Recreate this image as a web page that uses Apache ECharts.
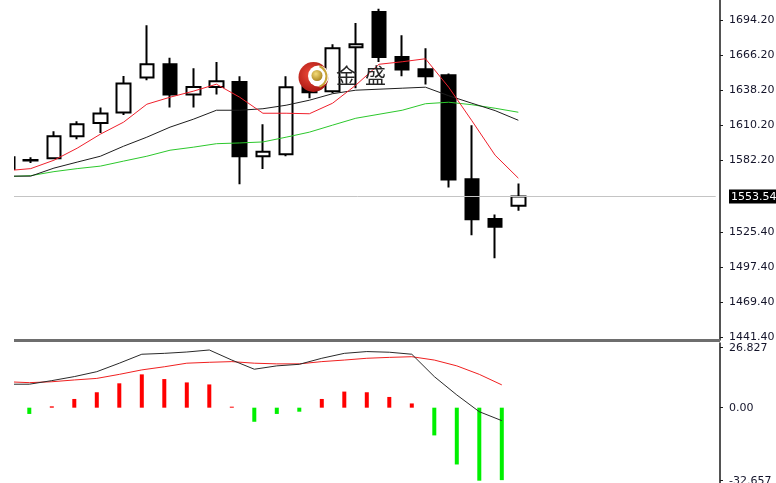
<!DOCTYPE html>
<html>
<head>
<meta charset="utf-8">
<script src="https://cdn.jsdelivr.net/npm/echarts@6/dist/echarts.min.js"></script>
<style>
html,body{margin:0;padding:0;background:#fff;}
#chart{width:776px;height:483px;}
</style>
</head>
<body>
<div id="chart"></div>
<script>
// ---- data ----
const categories = ['1','2','3','4','5','6','7','8','9','10','11','12','13','14','15','16','17','18','19','20','21','22','23'];
const opens  = [1575.4,1582.3,1584.1,1601.7,1612.3,1620.6,1648.5,1659.1,1634.9,1641.0,1645.0,1585.7,1587.3,1641.6,1637.6,1672.7,1700.8,1664.9,1655.1,1650.3,1567.4,1535.5,1546.1];
const closes = [1584.9,1582.7,1601.7,1611.3,1619.8,1643.7,1659.1,1634.9,1641.0,1645.5,1585.7,1589.3,1640.8,1636.8,1671.9,1675.1,1664.9,1654.9,1649.5,1567.2,1535.3,1529.4,1553.54];
const lows   = [1575.4,1580.2,1583.3,1599.3,1604.3,1618.7,1646.3,1624.6,1624.6,1634.9,1563.4,1575.4,1585.7,1632.0,1636.0,1640.0,1660.9,1649.5,1643.0,1560.8,1522.7,1504.2,1542.1];
const highs  = [1584.9,1584.9,1605.7,1613.6,1624.6,1649.8,1690.2,1664.4,1655.9,1660.9,1649.5,1611.3,1649.5,1654.3,1675.1,1692.0,1703.5,1682.2,1671.9,1651.7,1610.5,1539.2,1564.0];
const ma5  = [1574.2,1575.8,1582.5,1592.1,1603.3,1612.9,1627.2,1632.8,1637.6,1643.2,1632.8,1620.0,1620.0,1619.6,1628.0,1642.4,1659.1,1661.1,1663.5,1640.8,1614.0,1586.5,1568.2];
const ma10 = [1569.8,1569.8,1576.2,1581.0,1585.7,1593.7,1600.9,1608.9,1615.2,1622.4,1622.4,1623.6,1626.4,1630.4,1635.6,1638.4,1639.2,1640.0,1640.8,1634.0,1628.0,1622.1,1614.4];
const ma20 = [1569.4,1570.2,1573.4,1575.8,1577.8,1581.8,1585.7,1590.5,1592.9,1595.7,1596.3,1597.1,1600.9,1604.9,1610.5,1616.0,1619.2,1622.4,1627.6,1628.8,1626.8,1624.0,1620.8];
const dif  = [10.5,10.5,12.1,13.9,16.1,19.9,23.9,24.3,24.9,25.8,21.3,17.2,18.7,19.4,22.1,24.3,25.1,24.8,23.9,13.9,5.7,-1.8,-5.8];
const dea  = [11.6,11.2,11.6,12.4,13.1,14.9,16.9,18.3,19.9,20.3,20.6,19.9,19.6,19.6,20.6,21.3,22.1,22.5,22.8,21.3,18.7,14.9,10.2];
const macdHist = [-2.2,-2.8,0.6,3.9,6.9,10.9,14.9,12.8,11.3,10.4,0.45,-6.3,-2.8,-1.8,3.9,7.2,6.9,4.8,1.9,-12.4,-25.4,-32.657,-32.4];
const priceTicks = [1441.40,1469.40,1497.40,1525.40,1582.20,1610.20,1638.20,1666.20,1694.20];
const lastPrice = 1553.54;
const macdTicks = [26.827,0,-32.657];
const macdTickLabels = ['26.827','0.00','-32.657'];
const watermarkChars = ['金','盛'];

// ---- layout helpers ----
const TOP_SLOTS = 31, BOTTOM_SLOTS = 32;
function pad(arr, n){ const out = arr.slice(); for(let i=arr.length;i<n;i++) out.push('p'+i); return out; }
const topCats = pad(categories, TOP_SLOTS);
const botCats = pad(categories, BOTTOM_SLOTS);
const candleData = categories.map((_, i) => [opens[i], closes[i], lows[i], highs[i]]);

const FONT = 'DejaVu Sans';
const chart = echarts.init(document.getElementById('chart'), null, {renderer:'canvas'});

const priceLabelValues = priceTicks.concat([lastPrice]);

chart.setOption({
  animation: false,
  backgroundColor: '#ffffff',
  grid: [
    {left: -4.11, right: 60.3, top: 0, height: 340, containLabel: false, outerBoundsMode: 'none'},
    {left: -4.45, right: 60.45, top: 343, height: 140, containLabel: false, outerBoundsMode: 'none'}
  ],
  xAxis: [
    {type:'category', gridIndex:0, data: topCats, boundaryGap:true, show:false},
    {type:'category', gridIndex:1, data: botCats, boundaryGap:true, show:false}
  ],
  yAxis: [
    {
      type:'value', gridIndex:0, position:'right', offset:4.3,
      min: 1439.0, max: 1710.4, scale:true,
      splitLine:{show:false},
      axisLine:{show:true, onZero:false, lineStyle:{color:'#1a1a1a', width:1.5}},
      axisTick:{show:true, inside:false, length:3, lineStyle:{color:'#1a1a1a'}, customValues: priceTicks},
      axisLabel:{
        show:true, margin:9, color:'#14142a', fontSize:11, fontFamily:FONT,
        customValues: priceLabelValues,
        formatter: function(v){
          if (Math.abs(v - lastPrice) < 1e-6) return '{cur|' + lastPrice.toFixed(2) + '}';
          return Number(v).toFixed(2);
        },
        rich:{cur:{backgroundColor:'#000', color:'#fff', fontSize:11, fontFamily:FONT, padding:[2,3,1,2]}}
      }
    },
    {
      type:'value', gridIndex:1, position:'right', offset:4.45,
      min: -33.686, max: 28.93,
      splitLine:{show:false},
      axisLine:{show:true, onZero:false, lineStyle:{color:'#1a1a1a', width:1.5}},
      axisTick:{show:true, inside:false, length:3, lineStyle:{color:'#1a1a1a'}, customValues: macdTicks},
      axisLabel:{
        show:true, margin:9, color:'#14142a', fontSize:11, fontFamily:FONT,
        customValues: macdTicks,
        formatter: function(v){
          const i = macdTicks.findIndex(t => Math.abs(t - v) < 1e-6);
          return i >= 0 ? macdTickLabels[i] : '';
        }
      }
    }
  ],
  series: [
    {
      type:'candlestick', xAxisIndex:0, yAxisIndex:0, data: candleData,
      barWidth: 14,
      itemStyle:{color:'#ffffff', color0:'#000000', borderColor:'#000000', borderColor0:'#000000', borderWidth:2},
      markLine:{
        silent:true, symbol:['none','none'], animation:false,
        label:{show:false},
        lineStyle:{color:'#c4c4c4', width:1, type:'solid'},
        data:[{yAxis: lastPrice}]
      }
    },
    {type:'line', xAxisIndex:0, yAxisIndex:0, data: ma20, showSymbol:false, symbol:'none', lineStyle:{color:'#2cc82c', width:1}},
    {type:'line', xAxisIndex:0, yAxisIndex:0, data: ma10, showSymbol:false, symbol:'none', lineStyle:{color:'#1e1e1e', width:1}},
    {type:'line', xAxisIndex:0, yAxisIndex:0, data: ma5,  showSymbol:false, symbol:'none', lineStyle:{color:'#f0202c', width:1}},
    {
      type:'bar', xAxisIndex:1, yAxisIndex:1, data: macdHist, barWidth:4,
      itemStyle:{color: function(p){ return p.value >= 0 ? '#ff0000' : '#00f000'; }}
    },
    {type:'line', xAxisIndex:1, yAxisIndex:1, data: dea, showSymbol:false, symbol:'none', lineStyle:{color:'#f02020', width:1}},
    {type:'line', xAxisIndex:1, yAxisIndex:1, data: dif, showSymbol:false, symbol:'none', lineStyle:{color:'#2a2a2a', width:1}}
  ],
  graphic: [
    // watermark logo
    {type:'circle', z:50, shape:{cx:313.5, cy:77, r:15},
      style:{fill:{type:'radial', x:0.4, y:0.4, r:0.7, colorStops:[{offset:0,color:'#ee4a3a'},{offset:1,color:'#a0100c'}]}}},
    {type:'circle', z:51, shape:{cx:318.5, cy:76, r:10.5}, style:{fill:'#ffffff'}},
    {type:'arc', z:52, shape:{cx:315.5, cy:76.5, r:11, startAngle:-1.2, endAngle:1.2}, style:{stroke:'#c9a43a', lineWidth:2, fill:null}},
    {type:'circle', z:52, shape:{cx:317, cy:75.5, r:5.5},
      style:{fill:{type:'radial', x:0.4, y:0.35, r:0.7, colorStops:[{offset:0,color:'#f4dc7a'},{offset:1,color:'#a8821c'}]}}},
    {type:'text', z:52, x:336, y:65, style:{text: watermarkChars[0], font:'21px "Noto Sans CJK SC"', fill:'#262626'}},
    {type:'text', z:52, x:365, y:65, style:{text: watermarkChars[1], font:'21px "Noto Sans CJK SC"', fill:'#262626'}},
    // panel separator
    {type:'rect', z:100, shape:{x:14, y:339, width:706, height:3}, style:{fill:'#6e6e6e'}},
    // left edge of the plotting window
    {type:'rect', z:100, shape:{x:0, y:0, width:14, height:483}, style:{fill:'#ffffff'}}
  ]
});
</script>
</body>
</html>
